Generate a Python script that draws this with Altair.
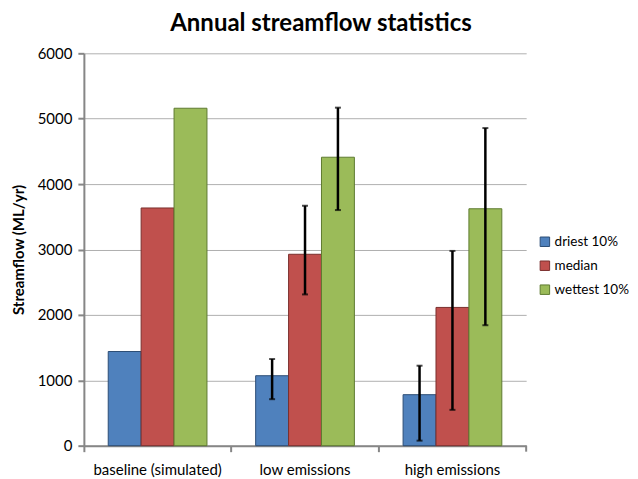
import altair as alt
import pandas as pd

categories = ["baseline (simulated)", "low emissions", "high emissions"]
series = ["driest 10%", "median", "wettest 10%"]

driest = [1440, 1070, 780]
median = [3635, 2927, 2114]
wettest = [5160, 4411, 3623]

driest_lo = [None, 711, 77]
driest_hi = [None, 1325, 1223]
median_lo = [None, 2313, 548]
median_hi = [None, 3669, 2978]
wettest_lo = [None, 3603, 1842]
wettest_hi = [None, 5169, 4857]

y_ticks = [0, 1000, 2000, 3000, 4000, 5000, 6000]

fill_colors = ["#4F81BD", "#C0504D", "#9BBB59"]
edge_colors = ["#2C4D75", "#7A2F2D", "#5E7A30"]

rows = []
err_rows = []
vals = [driest, median, wettest]
los = [driest_lo, median_lo, wettest_lo]
his = [driest_hi, median_hi, wettest_hi]
for si, s in enumerate(series):
    for ci, c in enumerate(categories):
        rows.append({"category": c, "series": s, "value": vals[si][ci]})
        if los[si][ci] is not None:
            err_rows.append({"category": c, "series": s,
                             "lo": los[si][ci], "hi": his[si][ci]})
df = pd.DataFrame(rows)
edf = pd.DataFrame(err_rows)

FONT = "Lato"

x_enc = alt.X("category:N", sort=categories,
              scale=alt.Scale(paddingInner=0, paddingOuter=0),
              axis=alt.Axis(title=None, labelAngle=0, bandPosition=0,
                            tickSize=6, labelPadding=11, labelFontSize=15,
                            labelFont=FONT, labelColor="#000000",
                            domainColor="#868686", tickColor="#868686",
                            domainWidth=2, tickWidth=2, grid=False))
xoff_enc = alt.XOffset("series:N", sort=series,
                       scale=alt.Scale(paddingInner=0, paddingOuter=0.74))

bars = alt.Chart(df).mark_bar(strokeWidth=1).encode(
    x=x_enc,
    xOffset=xoff_enc,
    y=alt.Y("value:Q", scale=alt.Scale(domain=[0, 6000], nice=False),
            axis=alt.Axis(values=y_ticks, format="d", title="Streamflow (ML/yr)",
                          titleFont=FONT, titleFontSize=15, titleFontWeight="bold",
                          titleColor="#000000", titlePadding=11,
                          labelFont=FONT, labelFontSize=15, labelColor="#000000",
                          labelPadding=6, tickSize=6, tickColor="#868686",
                          tickWidth=2, domainColor="#868686", domainWidth=2,
                          gridColor="#B0B0B0", gridWidth=1)),
    color=alt.Color("series:N", sort=series,
                    scale=alt.Scale(domain=series, range=fill_colors),
                    legend=alt.Legend(title=None, orient="none",
                                      legendX=455, legendY=182,
                                      symbolType="square", symbolSize=90,
                                      symbolStrokeColor="#333333",
                                      symbolStrokeWidth=1,
                                      labelFont=FONT, labelFontSize=13.5,
                                      labelColor="#000000", rowPadding=9,
                                      labelOffset=3)),
    stroke=alt.Stroke("series:N", sort=series,
                      scale=alt.Scale(domain=series, range=edge_colors),
                      legend=None),
)

err_rule = alt.Chart(edf).mark_rule(color="#000000", strokeWidth=2.5).encode(
    x=alt.X("category:N", sort=categories),
    xOffset=alt.XOffset("series:N", sort=series),
    y="lo:Q",
    y2="hi:Q",
)
cap_lo = alt.Chart(edf).mark_tick(color="#000000", thickness=2, size=6).encode(
    x=alt.X("category:N", sort=categories),
    xOffset=alt.XOffset("series:N", sort=series),
    y="lo:Q",
)
cap_hi = alt.Chart(edf).mark_tick(color="#000000", thickness=2, size=6).encode(
    x=alt.X("category:N", sort=categories),
    xOffset=alt.XOffset("series:N", sort=series),
    y="hi:Q",
)

# closing tick at right end of the category axis
end_tick = alt.Chart(pd.DataFrame({"v": [0]})).mark_rule(
    color="#868686", strokeWidth=2).encode(
    x=alt.value(443), y=alt.value(393), y2=alt.value(399))

chart = alt.layer(bars, err_rule, cap_lo, cap_hi, end_tick).properties(
    width=443, height=393,
    title=alt.TitleParams("Annual streamflow statistics", font=FONT,
                          fontSize=24, fontWeight="bold", color="#000000",
                          anchor="middle", offset=10, dx=16),
    autosize=alt.AutoSizeParams(type="none"),
    padding={"left": 76, "top": 45, "right": 104, "bottom": 40},
).configure_view(stroke=None)

chart.save("out.html", embed_options={"renderer": "svg", "actions": False})
